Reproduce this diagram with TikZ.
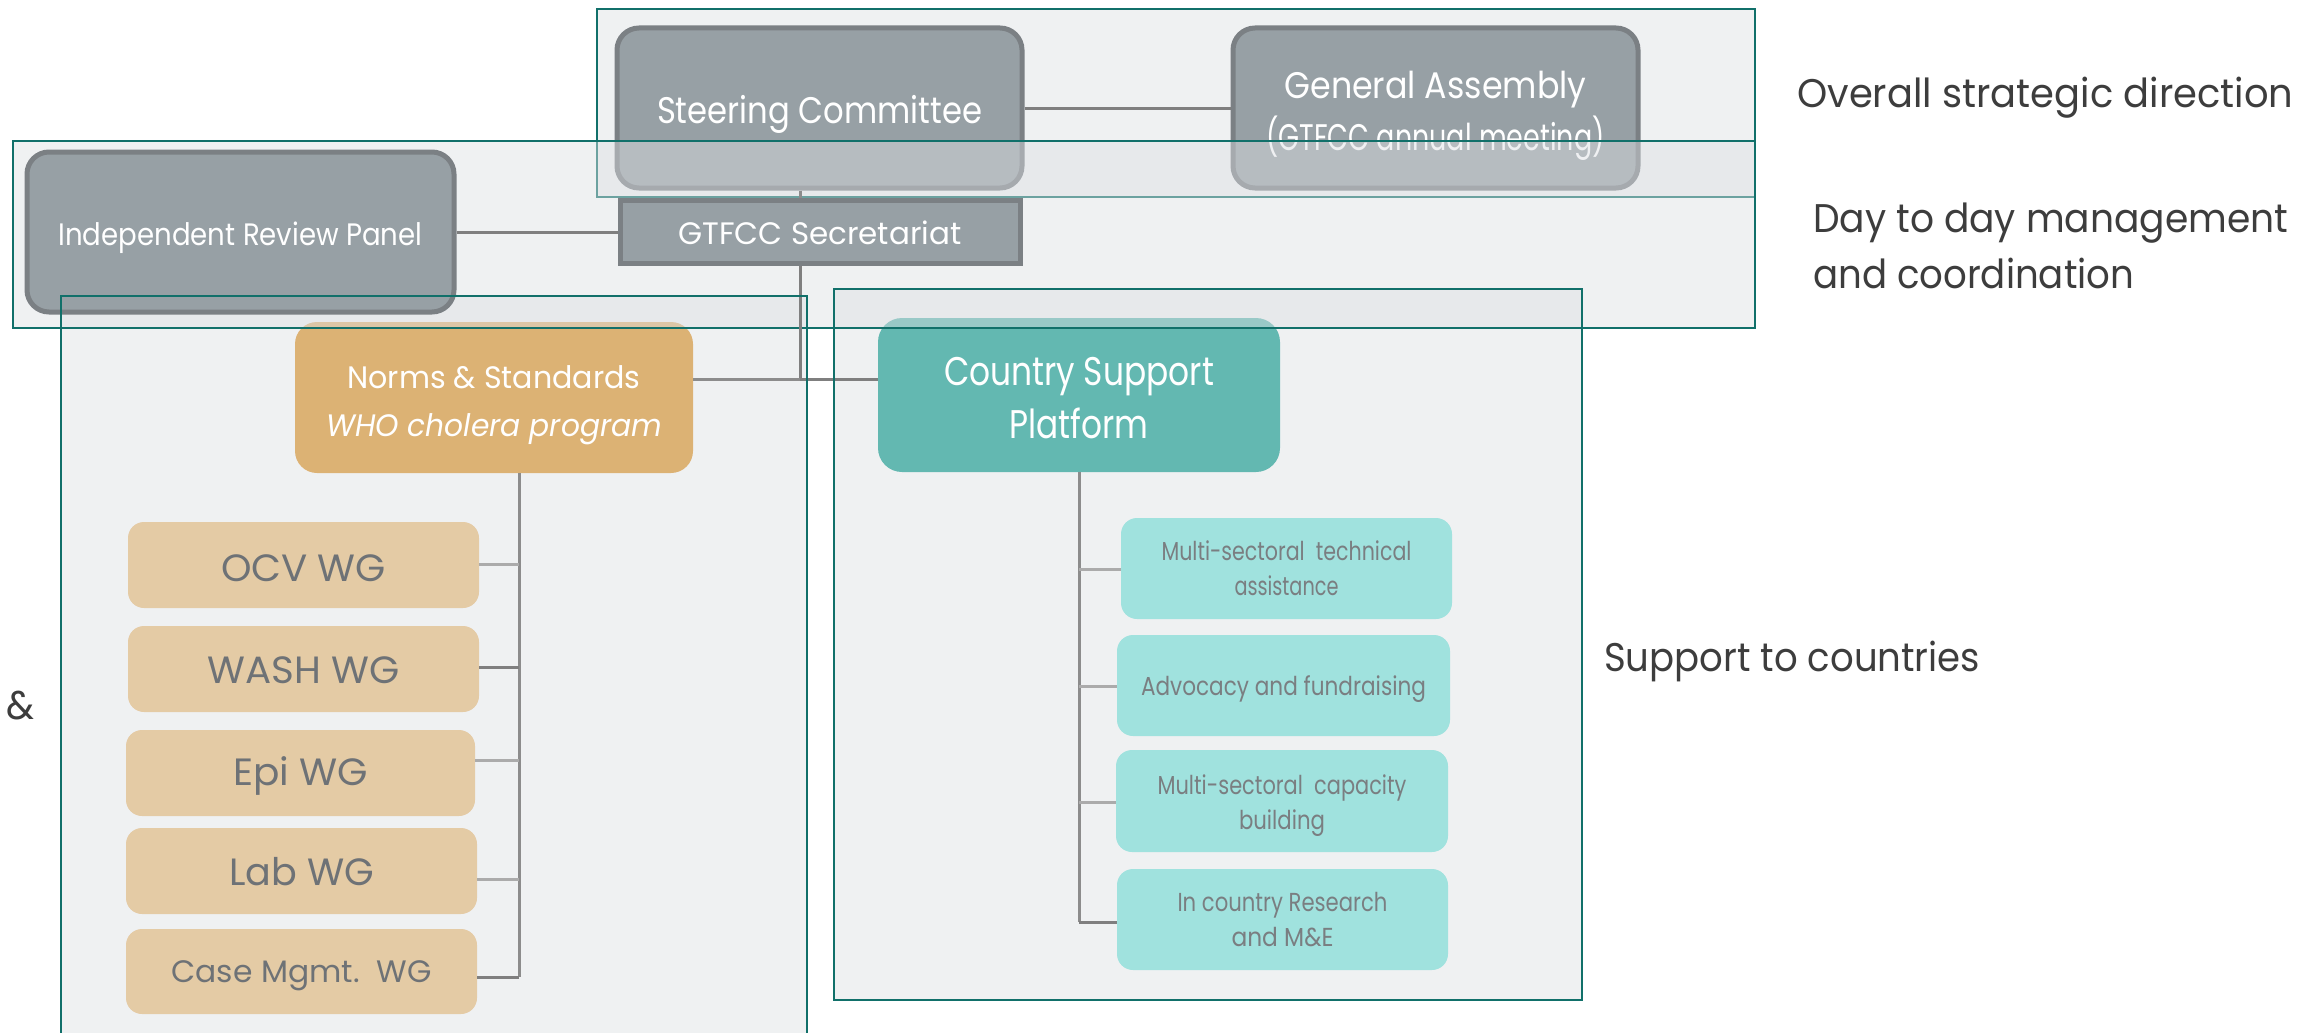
\documentclass[tikz,border=0pt]{standalone}
\usepackage{fontspec}
\setmainfont{Poppins}
\usepackage{graphicx}
\definecolor{frameteal}{HTML}{11706A}
\definecolor{framefill}{HTML}{DCDFE3}
\definecolor{gbox}{HTML}{97A0A5}
\definecolor{gborder}{HTML}{7B8084}
\definecolor{normsc}{HTML}{DCB274}
\definecolor{wgc}{HTML}{E4CBA5}
\definecolor{wgtext}{HTML}{6E7276}
\definecolor{cspc}{HTML}{63B8B1}
\definecolor{subc}{HTML}{A0E2DE}
\definecolor{subtext}{HTML}{7A7E81}
\definecolor{linedark}{HTML}{7F7F7F}
\definecolor{linemid}{HTML}{8C8C8C}
\definecolor{linelight}{HTML}{ABABAB}
\definecolor{labeltext}{HTML}{3D3D3D}
\newsavebox\fitsbox
\newlength\fitlen
\newcommand\fitx[2]{\sbox\fitsbox{#2}\setlength\fitlen{\wd\fitsbox}\pgfmathsetmacro\fitr{#1/\fitlen}\scalebox{\fitr}[1]{\usebox\fitsbox}}
\tikzset{
  frameline/.style={draw=frameteal, line width=2.5pt},
  framebg/.style={fill=framefill, fill opacity=0.45},
  boxbase/.style={align=center, inner sep=0pt, text depth=0pt},
  graybox/.style={boxbase, draw=gborder, fill=gbox, line width=5pt, rounded corners=22pt, text=white},
  secbox/.style={boxbase, draw=gborder, fill=gbox, line width=5pt, text=white},
  normsbox/.style={boxbase, fill=normsc, rounded corners=22pt, text=white},
  wgbox/.style={boxbase, fill=wgc, rounded corners=16pt, text=wgtext},
  cspbox/.style={boxbase, fill=cspc, rounded corners=24pt, text=white},
  subbox/.style={boxbase, fill=subc, rounded corners=16pt, text=subtext},
  conn/.style={draw=linedark, line width=3pt},
  connmid/.style={draw=linemid, line width=3pt},
  connlight/.style={draw=linelight, line width=3pt},
  sidelabel/.style={text=labeltext, inner sep=0pt, anchor=base west, font=\fontsize{40}{56}\selectfont},
}
\begin{document}
\begin{tikzpicture}[x=1pt,y=-1pt]
\useasboundingbox (0,0) rectangle (2318,1033);
% top frame
\path[framebg] (597,9) rectangle (1755,197);
\draw[frameline] (597,9) rectangle (1755,197);
% bottom frames backgrounds
\path[framebg] (61,296) rectangle (807,1040);
\path[framebg] (834,289) rectangle (1582,1000);
% top boxes
\node[graybox, minimum width=405pt, minimum height=160pt, text height=30pt, font=\fontsize{37}{52}\selectfont] (steer) at (819.5,108) {\fitx{325}{Steering Committee}};
\node[graybox, minimum width=405pt, minimum height=160pt, text height=84pt, font=\fontsize{37}{52}\selectfont] (ga) at (1435.5,108) {\fitx{302}{General Assembly}\\\fitx{338}{(GTFCC annual meeting)}};
\draw[conn] (steer.east) -- (ga.west);
% norms & csp
\node[normsbox, minimum width=398pt, minimum height=151pt, text height=77.7pt, font=\fontsize{31}{48}\selectfont] (norms) at (494,397.5) {\fitx{293}{Norms \& Standards}\\\fitx{336}{\itshape WHO cholera program}};
\node[cspbox, minimum width=402pt, minimum height=154pt, text height=86pt, font=\fontsize{40}{53}\selectfont] (csp) at (1079,395) {\fitx{270}{Country Support}\\\fitx{139}{Platform}};
% middle frame
\path[framebg] (13,141) rectangle (1755,328);
\draw[frameline] (13,141) rectangle (1755,328);
% IRP and secretariat
\node[graybox, minimum width=427pt, minimum height=160pt, text height=26.7pt, font=\fontsize{31}{40}\selectfont] (irp) at (240.5,232) {\fitx{364}{Independent Review Panel}};
\node[secbox, minimum width=400pt, minimum height=63pt, text height=26.7pt, font=\fontsize{31}{40}\selectfont] (sec) at (820,231.5) {\fitx{283}{GTFCC Secretariat}};
\coordinate (j1) at (800,379);
\draw[connmid] (steer.south -| j1) -- (sec.north -| j1);
\draw[conn] (irp.east) -- (irp.east -| sec.west);
\draw[conn] (sec.south -| j1) -- (j1) -- (j1 -| csp.west);
\draw[connmid] (j1 -| norms.east) -- (j1);
% working groups
\node[wgbox, minimum width=351pt, minimum height=86pt, text height=32.6pt, font=\fontsize{38}{44}\selectfont] (ocv) at (303.5,565) {\fitx{165}{OCV WG}};
\node[wgbox, minimum width=351pt, minimum height=86pt, text height=28.6pt, font=\fontsize{38}{44}\selectfont] (wash) at (303.5,669) {\fitx{192}{WASH WG}};
\node[wgbox, minimum width=349pt, minimum height=86pt, text height=24.6pt, font=\fontsize{38}{44}\selectfont] (epi) at (300.5,773) {\fitx{135}{Epi WG}};
\node[wgbox, minimum width=351pt, minimum height=86pt, text height=28.6pt, font=\fontsize{38}{44}\selectfont] (lab) at (301.5,871) {\fitx{145}{Lab WG}};
\node[wgbox, minimum width=351pt, minimum height=85pt, text height=22.7pt, font=\fontsize{31}{40}\selectfont] (case) at (301.5,971.5) {\fitx{260}{Case Mgmt.\ \ WG}};
\coordinate (w1) at (519,564);
\coordinate (w2) at (519,667);
\coordinate (w3) at (519,760);
\coordinate (w4) at (519,879);
\coordinate (w5) at (519,977);
\draw[connmid] (norms.south -| w1) -- (w5);
\draw[connlight] (w1) -- (w1 -| ocv.east);
\draw[conn] (w2) -- (w2 -| wash.east);
\draw[connlight] (w3) -- (w3 -| epi.east);
\draw[connlight] (w4) -- (w4 -| lab.east);
\draw[conn] (w5) -- (w5 -| case.east);
% country support sub boxes
\node[subbox, minimum width=331pt, minimum height=101pt, text height=53.2pt, font=\fontsize{26}{35}\selectfont] (mst) at (1286.5,568.5) {\fitx{250}{Multi-sectoral\ \ technical}\\\fitx{104}{assistance}};
\node[subbox, minimum width=333pt, minimum height=101pt, text height=20.2pt, font=\fontsize{26}{35}\selectfont] (adv) at (1283.5,685.5) {\fitx{285}{Advocacy and fundraising}};
\node[subbox, minimum width=332pt, minimum height=102pt, text height=57.2pt, font=\fontsize{26}{35}\selectfont] (cap) at (1282,801) {\fitx{249}{Multi-sectoral\ \ capacity}\\\fitx{86}{building}};
\node[subbox, minimum width=331pt, minimum height=101pt, text height=53.2pt, font=\fontsize{26}{35}\selectfont] (res) at (1282.5,919.5) {\fitx{210}{In country Research}\\\fitx{102}{and M\&E}};
\coordinate (c1) at (1079,569);
\coordinate (c2) at (1079,686);
\coordinate (c3) at (1079,802);
\coordinate (c4) at (1079,922);
\draw[connmid] (csp.south) -- (c4);
\draw[connlight] (c1) -- (c1 -| mst.west);
\draw[connlight] (c2) -- (c2 -| adv.west);
\draw[connlight] (c3) -- (c3 -| cap.west);
\draw[conn] (c4) -- (c4 -| res.west);
% bottom frame outlines
\draw[frameline] (61,1040) -- (61,296) -- (807,296) -- (807,1040);
\draw[frameline] (834,289) rectangle (1582,1000);
% side labels
\node[sidelabel] (lab1) at (1797,107) {\fitx{496}{Overall strategic direction}};
\node[sidelabel] (lab2) at (1813,232) {\fitx{475}{Day to day management}};
\node[sidelabel] (lab3) at (1813,288) {\fitx{321}{and coordination}};
\node[sidelabel] (lab4) at (1604,671) {\fitx{376}{Support to countries}};
\node[sidelabel] (amp) at (6,719) {\fitx{28}{\&}};
\end{tikzpicture}
\end{document}
